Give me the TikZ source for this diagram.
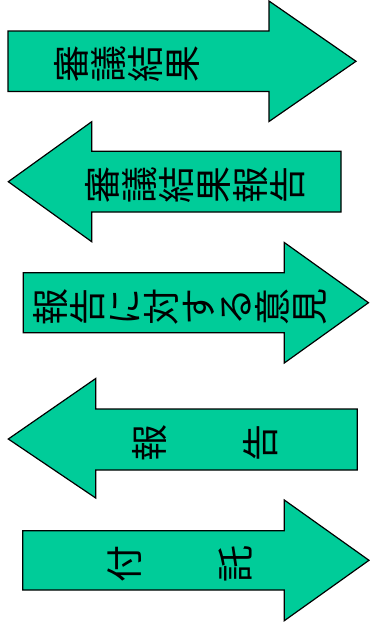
\documentclass[tikz,border=0pt]{standalone}
\usepackage{fontspec}
\newfontfamily\jpfont{Noto Sans CJK JP}
\usepackage{xcolor}
\definecolor{arrowgreen}{HTML}{00CC99}

\begin{document}
\begin{tikzpicture}[
    x=1pt, y=-1pt,
    blk/.style={draw, fill=arrowgreen, line width=1.2pt, line join=miter},
    lbl/.style={font=\jpfont\fontsize{37}{37}\selectfont, align=center,
                rotate=90, inner sep=0pt}
]
    \useasboundingbox (0,0) rectangle (370,625);

    % block arrows, top to bottom
    \draw[blk] (8,31) -- (269,31) -- (269,1) -- (356,61.3)
               -- (269,121.5) -- (269,91.5) -- (8,91.5) -- cycle;
    \draw[blk] (341,151.3) -- (91.7,151.3) -- (91.7,121.7) -- (8.3,181.7)
               -- (91.7,241.7) -- (91.7,212) -- (341,212) -- cycle;
    \draw[blk] (23.3,272.7) -- (284.3,272.7) -- (284.3,242.5) -- (368.5,302.7)
               -- (284.3,363) -- (284.3,332.7) -- (23.3,332.7) -- cycle;
    \draw[blk] (357.3,409) -- (95.7,409) -- (95.7,378.5) -- (8.3,439)
               -- (95.7,498) -- (95.7,470) -- (357.3,470) -- cycle;
    \draw[blk] (22.7,530.7) -- (284.3,530.7) -- (284.3,500) -- (369,560.3)
               -- (284.3,620.7) -- (284.3,590) -- (22.7,590) -- cycle;

    % labels
    \node[lbl] (kekka)   at (126.5,64)  {審\\議\\結\\果};
    \node[lbl] (kekkahk) at (195.5,185) {審\\議\\結\\果\\報\\告};
    \node[lbl] (iken)    at (180,306.5) {報\\告\\に\\対\\す\\る\\意\\見};
    \node[lbl] (hokoku)  at (205.5,442.5) {報\\[74pt]告};
    \node[lbl] (futaku)  at (180,563.5) {付\\[74pt]託};
\end{tikzpicture}
\end{document}
